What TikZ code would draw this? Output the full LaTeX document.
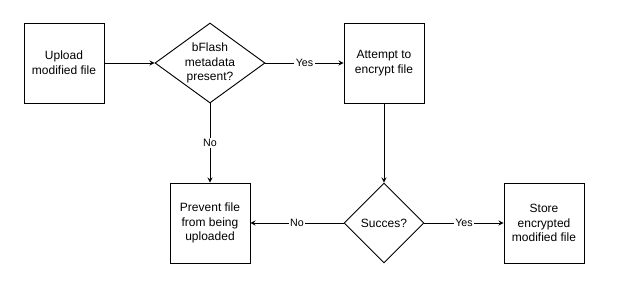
\documentclass[tikz,border=0pt]{standalone}
\usepackage{fontspec}
\setmainfont{Liberation Sans}
\usetikzlibrary{shapes.geometric}
\begin{document}
\begin{tikzpicture}[x=0.75pt, y=-0.75pt, line width=0.7pt,
    every node/.style={font=\fontsize{9}{11}\selectfont},
    stepbox/.style={draw, minimum width=60pt, minimum height=60pt, align=center, inner sep=2pt},
    decision/.style={draw, diamond, align=center, inner sep=0pt},
    flow/.style={-stealth},
    edgelabel/.style={fill=white, inner sep=1pt, font=\fontsize{8}{10}\selectfont}]
    \useasboundingbox (0,0) rectangle (621,297);
    \node[stepbox] (upload) at (64,63) {Upload\\modified file};
    \node[decision, minimum width=82.5pt, minimum height=60pt, shape aspect=1.375] (meta) at (210,63) {bFlash\\metadata\\present?};
    \node[stepbox] (attempt) at (384,63) {Attempt to\\encrypt file};
    \node[stepbox] (prevent) at (210,223) {Prevent file\\from being\\uploaded};
    \node[decision, minimum width=60pt, minimum height=60pt] (success) at (384,223) {Succes?};
    \node[stepbox] (store) at (544,223) {Store\\encrypted\\modified file};
    \draw[flow] (upload) -- (meta);
    \draw[flow] (meta) -- node[edgelabel] {Yes} (attempt);
    \draw[flow] (meta) -- node[edgelabel] {No} (prevent);
    \draw[flow] (attempt) -- (success);
    \draw[flow] (success) -- node[edgelabel] {No} (prevent);
    \draw[flow] (success) -- node[edgelabel] {Yes} (store);
\end{tikzpicture}
\end{document}
